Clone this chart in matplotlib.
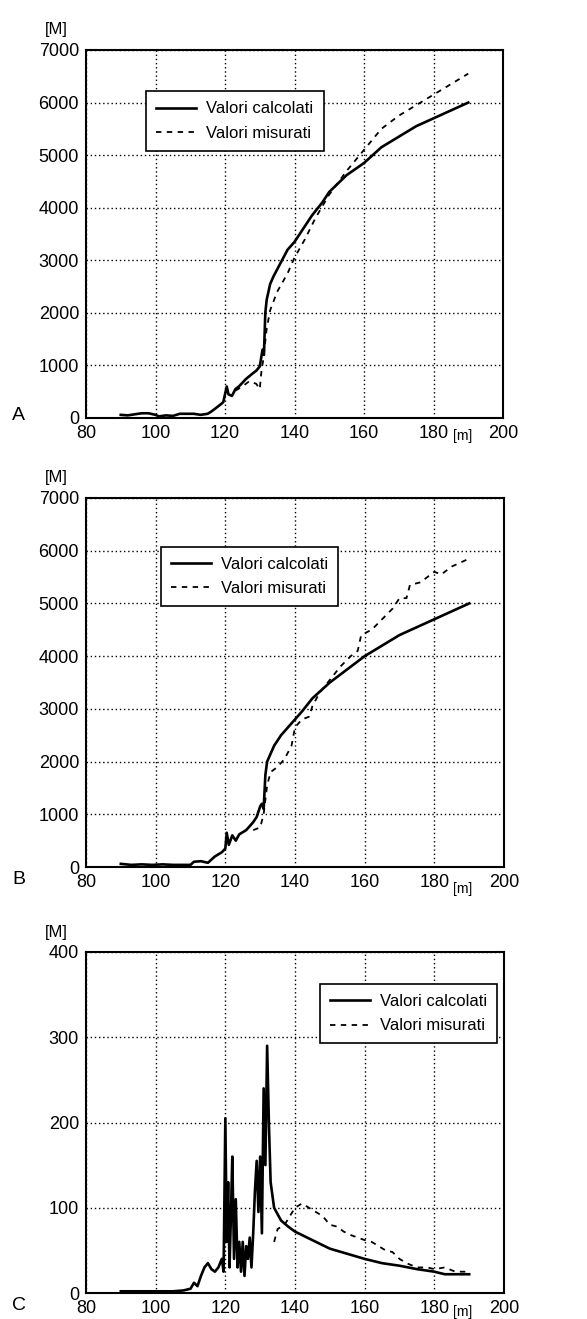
import matplotlib
matplotlib.use("Agg")
import matplotlib.pyplot as plt
import numpy as np

plt.rcParams['font.family'] = ['Liberation Sans', 'DejaVu Sans']

# ---------------- data ----------------
xA_calc = [90, 92, 94, 96, 98, 100, 101, 103, 105, 107, 109, 111, 113, 115, 116, 118, 119.5, 120.5, 121, 122, 123,
           124, 126, 128, 129, 130, 130.8, 131.2, 131.6, 132, 133, 134, 136, 138, 140, 142, 145, 148, 150,
           155, 160, 165, 170, 175, 180, 185, 190]
yA_calc = [60, 50, 70, 90, 90, 60, 30, 50, 40, 80, 80, 80, 60, 80, 120, 220, 300, 600, 450, 420, 550,
           600, 740, 850, 900, 980, 1300, 1200, 2000, 2250, 2550, 2700, 2950, 3200, 3350, 3550, 3850, 4100, 4300,
           4620, 4850, 5150, 5350, 5550, 5700, 5850, 6000]
xA_meas = [123, 125, 127, 129, 130, 130.5, 131, 132, 133, 135, 138, 140, 143, 146, 150, 155, 160, 165, 170,
           175, 180, 185, 190]
yA_meas = [520, 600, 700, 650, 550, 900, 1100, 1700, 2050, 2400, 2750, 3050, 3400, 3800, 4250, 4700, 5100,
           5500, 5750, 5950, 6150, 6350, 6550]

xB_calc = [90, 93, 96, 99, 102, 105, 108, 110, 111, 113, 115, 117, 119, 120, 120.4, 121, 122, 123, 124, 126,
           128, 129, 130, 130.5, 131, 131.5, 132, 133, 134, 136, 138, 140, 142, 145, 150, 155, 160, 165, 170,
           175, 180, 185, 190]
yB_calc = [60, 40, 50, 40, 50, 40, 40, 40, 100, 110, 80, 200, 280, 350, 650, 420, 600, 500, 620, 700,
           850, 950, 1150, 1200, 1100, 1750, 2000, 2150, 2300, 2500, 2650, 2800, 2950, 3200, 3500, 3750, 4000,
           4200, 4400, 4550, 4700, 4850, 5000]
xB_meas = [128, 130, 131, 132, 133, 135, 137, 139, 140, 142, 144, 145, 147, 150, 153, 156, 158, 159, 162,
           165, 168, 170, 172, 173, 176, 178, 180, 182, 185, 190]
yB_meas = [700, 750, 1000, 1550, 1800, 1900, 2050, 2300, 2650, 2800, 2850, 3050, 3300, 3550, 3800, 4000,
           4100, 4400, 4500, 4700, 4900, 5100, 5100, 5350, 5400, 5500, 5600, 5550, 5700, 5850]

xC_calc = [90, 95, 100, 105, 108, 110, 111, 112, 113, 114, 115, 116, 117, 118, 119, 119.5, 120, 120.4, 120.8,
           121.2, 121.6, 122, 122.5, 123, 123.5, 124, 124.5, 125, 125.5, 126, 126.5, 127, 127.5, 128, 128.5,
           129, 129.5, 130, 130.5, 131, 131.5, 132, 132.5, 133, 134, 136, 138, 140, 145, 150, 155, 160, 165,
           170, 175, 180, 183, 190]
yC_calc = [2, 2, 2, 2, 3, 5, 12, 8, 20, 30, 35, 28, 25, 30, 40, 25, 205, 60, 130, 30, 90, 160, 40, 110,
           30, 60, 25, 60, 20, 55, 40, 65, 30, 70, 120, 155, 95, 160, 70, 240, 150, 290, 200, 130, 100, 85,
           78, 72, 62, 52, 46, 40, 35, 32, 28, 25, 22, 22]
xC_meas = [134, 135, 137, 140, 142, 144, 146, 148, 150, 152, 154, 156, 158, 160, 162, 164, 166, 168, 170,
           172, 175, 178, 180, 183, 186, 189]
yC_meas = [60, 75, 80, 100, 105, 100, 95, 90, 80, 78, 72, 68, 65, 62, 60, 55, 50, 48, 40, 35, 30, 30, 28,
           30, 25, 25]

xticks = [80, 100, 120, 140, 160, 180, 200]
yticks_AB = [0, 1000, 2000, 3000, 4000, 5000, 6000, 7000]
yticks_C = [0, 100, 200, 300, 400]
labels = ["Valori calcolati", "Valori misurati"]

# ---------------- figure ----------------
W, H = 587, 1319
fig = plt.figure(figsize=(W / 100, H / 100), dpi=100)


def add_axes(left, top, right, bottom):
    return fig.add_axes([left / W, 1 - bottom / H, (right - left) / W, (bottom - top) / H])


panels = [
    dict(box=(86, 50, 503, 418), xc=xA_calc, yc=yA_calc, xm=xA_meas, ym=yA_meas, yt=yticks_AB,
         ylim=7000, leg=(0.125, 0.91), tag="A", tagy=416, my=436),
    dict(box=(86, 498, 504, 867), xc=xB_calc, yc=yB_calc, xm=xB_meas, ym=yB_meas, yt=yticks_AB,
         ylim=7000, leg=(0.16, 0.89), tag="B", tagy=879, my=889),
    dict(box=(86, 952, 504, 1293), xc=xC_calc, yc=yC_calc, xm=xC_meas, ym=yC_meas, yt=yticks_C,
         ylim=400, leg=(0.54, 0.93), tag="C", tagy=1306, my=1312),
]

for p in panels:
    ax = add_axes(*p["box"])
    ax.plot(p["xc"], p["yc"], color="black", lw=1.9, label=labels[0])
    ax.plot(p["xm"], p["ym"], color="black", lw=1.3, ls=(0, (3, 3)), label=labels[1])
    ax.set_xlim(80, 200)
    ax.set_ylim(0, p["ylim"])
    ax.set_xticks(xticks)
    ax.set_yticks(p["yt"])
    ax.tick_params(labelsize=13, length=0, pad=5)
    ax.grid(True, color="black", ls=(0, (1, 2)), lw=1.0)
    for s in ax.spines.values():
        s.set_linewidth(1.5)
    leg = ax.legend(loc="upper left", bbox_to_anchor=p["leg"], fontsize=12, frameon=True,
                    fancybox=False, edgecolor="black", framealpha=1, handlelength=2.4,
                    borderpad=0.6, labelspacing=0.55, handletextpad=0.6)
    leg.get_frame().set_linewidth(1.2)
    # unit labels
    ax.text(-0.07, 1.035, "[M]", transform=ax.transAxes, fontsize=12, ha="center", va="bottom")
    fig.text(463 / W, 1 - p["my"] / H, "[m]", fontsize=10, ha="center", va="center")
    fig.text(12 / W, 1 - p["tagy"] / H, p["tag"], fontsize=14, ha="left", va="center")

fig.savefig("out.png", dpi=100)
